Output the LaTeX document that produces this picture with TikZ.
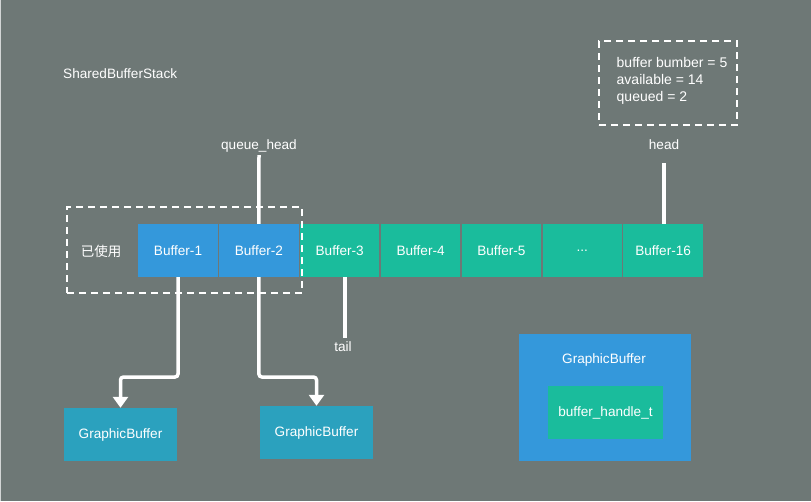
\documentclass[tikz,border=0pt]{standalone}
\usepackage{fontspec}
\setmainfont{Liberation Sans}
\newfontfamily\cjk{Noto Sans CJK SC}
\usetikzlibrary{arrows.meta,calc}
\definecolor{bg}{RGB}{110,120,118}
\definecolor{bblue}{RGB}{52,152,219}
\definecolor{bgreen}{RGB}{26,188,156}
\definecolor{gteal}{RGB}{43,161,190}
\tikzset{
  txt/.style={font=\fontsize{13.6}{16}\selectfont},
  cell/.style={rectangle,minimum width=79.4pt,minimum height=53pt,inner sep=0pt,text=white,txt},
  bluecell/.style={cell,fill=bblue},
  greencell/.style={cell,fill=bgreen},
  gbox/.style={rectangle,fill=gteal,minimum width=113pt,minimum height=53pt,inner sep=0pt,text=white,txt},
  lbl/.style={text=white,inner sep=0pt,txt},
  dashbox/.style={draw=white,line width=1.1pt,dash pattern=on 7pt off 5pt},
  wline/.style={draw=white,line width=3.5pt},
  warrow/.style={draw=white,line width=3.5pt,rounded corners=3pt,-{Triangle[width=15pt,length=11pt]}},
}
\begin{document}
\begin{tikzpicture}[x=1pt,y=-1pt]
\fill[bg] (0,0) rectangle (811,501);
\useasboundingbox (0,0) rectangle (811,501);
\draw[white!70!bg,line width=1pt] (0.5,0) -- (0.5,501);

\node[lbl,anchor=west] (title) at (63,74) {SharedBufferStack};

% buffer cells
\node[bluecell] (b1) at (178,250.5) {Buffer-1};
\node[bluecell] (b2) at (258.9,250.5) {Buffer-2};
\node[greencell] (b3) at (339.7,250.5) {Buffer-3};
\node[greencell] (b4) at (420.6,250.5) {Buffer-4};
\node[greencell] (b5) at (501.4,250.5) {Buffer-5};
\node[greencell] (b6) at (582.3,250.5) {...};
\node[greencell] (b16) at (663.1,250.5) {Buffer-16};

% used dashed box
\node[dashbox,rectangle,minimum width=235pt,minimum height=86pt,inner sep=0pt] (used) at (184.5,250) {};
\node[lbl,font=\cjk\fontsize{13.5}{16}\selectfont] (usedtxt) at (101,251) {已使用};

% queue_head
\node[lbl] (qh) at (259,146) {queue\_head};
\draw[wline] (qh.south |- 0,155) -- (b2.north);

% head
\node[lbl] (hd) at (664,145) {head};
\draw[wline] (664,163) -- (b16.north -| hd.south);

% info box
\node[dashbox,rectangle,minimum width=138pt,minimum height=84pt,inner sep=0pt] (info) at (668,83) {};
\node[lbl,anchor=north west,align=left,font=\fontsize{14}{17}\selectfont] (infotxt) at (616.5,57.5) {buffer bumber = 5\\available = 14\\queued = 2};

% tail
\node[lbl] (tl) at (343,347) {tail};
\draw[wline] (b3.south -| 345,0) -- (345,338);

% graphic buffers
\node[gbox] (gb1) at (120.5,434.5) {GraphicBuffer};
\node[gbox] (gb2) at (316.5,432.5) {GraphicBuffer};
\draw[warrow] (b1.south) |- (gb1.north |- 0,377) -- (gb1.north);
\draw[warrow] (b2.south) |- (gb2.north |- 0,377) -- (gb2.north);

% legend
\node[rectangle,fill=bblue,minimum width=172pt,minimum height=127pt,inner sep=0pt] (leg) at (605,397.5) {};
\node[lbl] (legt) at (604,360) {GraphicBuffer};
\node[rectangle,fill=bgreen,minimum width=115pt,minimum height=53pt,inner sep=0pt,text=white,txt] (bh) at (605.5,412.5) {buffer\_handle\_t};
\end{tikzpicture}
\end{document}
